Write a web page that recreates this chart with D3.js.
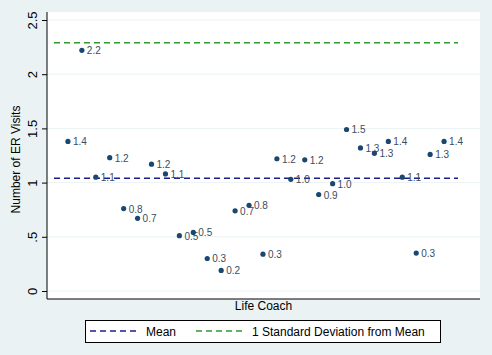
<!DOCTYPE html>
<html>
<head>
<meta charset="utf-8">
<script src="https://cdn.jsdelivr.net/npm/d3@7"></script>
<style>
  body { margin: 0; background: #eaf2f3; }
  svg { display: block; font-family: "Liberation Sans", Arial, sans-serif; }
</style>
</head>
<body>
<div id="chart"></div>
<script>
// values
const coachIds = d3.range(1, 29);
const erVisits = [
  1.38, 2.22, 1.05, 1.23, 0.76, 0.67, 1.17, 1.08, 0.51, 0.54,
  0.30, 0.19, 0.74, 0.79, 0.34, 1.22, 1.03, 1.21, 0.89, 0.99,
  1.49, 1.32, 1.27, 1.38, 1.05, 0.35, 1.26, 1.38,
];
const pointLabels = [
  '1.4', '2.2', '1.1', '1.2', '0.8', '0.7', '1.2', '1.1', '0.5', '0.5',
  '0.3', '0.2', '0.7', '0.8', '0.3', '1.2', '1.0', '1.2', '0.9', '1.0',
  '1.5', '1.3', '1.3', '1.4', '1.1', '0.3', '1.3', '1.4',
];
const meanValue = 1.04;
const sdValue = 2.29;
const yTicks = [0, 0.5, 1, 1.5, 2, 2.5];
const yTickLabels = ['0', '.5', '1', '1.5', '2', '2.5'];
const lineExtent = [0, 29];

const width = 492;
const height = 355;
const plot = { left: 47, right: 480, top: 12, bottom: 299 };

const data = coachIds.map((id, i) => ({ id, value: erVisits[i], label: pointLabels[i] }));

const xScale = d3.scaleLinear().domain([0, 29]).range([54, 458]);
const yScale = d3.scaleLinear().domain([0, 2.5]).range([291, 20]);

const svg = d3.select('#chart')
  .append('svg')
  .attr('width', width)
  .attr('height', height);

svg.append('rect')
  .attr('width', width)
  .attr('height', height)
  .attr('fill', '#eaf2f3');

svg.append('rect')
  .attr('x', plot.left)
  .attr('y', plot.top)
  .attr('width', plot.right - plot.left)
  .attr('height', plot.bottom - plot.top)
  .attr('fill', '#fff');

// gridlines
svg.append('g')
  .selectAll('line')
  .data(yTicks)
  .enter()
  .append('line')
  .attr('x1', plot.left)
  .attr('x2', plot.right)
  .attr('y1', (d) => yScale(d))
  .attr('y2', (d) => yScale(d))
  .attr('stroke', '#eaf2f3')
  .attr('stroke-width', 1);

// y axis
const yAxis = d3.axisLeft(yScale)
  .tickValues(yTicks)
  .tickSize(5)
  .tickFormat((d, i) => yTickLabels[i]);
const gy = svg.append('g')
  .attr('transform', `translate(${plot.left},0)`)
  .call(yAxis);
gy.select('.domain').remove();
gy.selectAll('.tick line').attr('stroke', '#000');
gy.selectAll('.tick text')
  .attr('fill', '#000')
  .attr('font-size', 13)
  .attr('text-anchor', 'middle')
  .attr('dy', null)
  .attr('x', 0)
  .attr('transform', 'translate(-10,0) rotate(-90)');
svg.append('line')
  .attr('x1', plot.left).attr('x2', plot.left)
  .attr('y1', plot.top).attr('y2', plot.bottom)
  .attr('stroke', '#000');
svg.append('line')
  .attr('x1', plot.left).attr('x2', plot.right)
  .attr('y1', plot.bottom).attr('y2', plot.bottom)
  .attr('stroke', '#000');

svg.append('text')
  .attr('transform', `translate(20,${(plot.top + plot.bottom) / 2 + 4}) rotate(-90)`)
  .attr('text-anchor', 'middle')
  .attr('font-size', 12)
  .text('Number of ER Visits');

svg.append('text')
  .attr('x', (plot.left + plot.right) / 2)
  .attr('y', 310)
  .attr('text-anchor', 'middle')
  .attr('font-size', 12)
  .text('Life Coach');

// reference lines
const refLines = [
  { value: meanValue, color: '#1c1c8c' },
  { value: sdValue, color: '#2e9a2e' },
];
svg.append('g')
  .selectAll('line')
  .data(refLines)
  .enter()
  .append('line')
  .attr('x1', xScale(lineExtent[0]))
  .attr('x2', xScale(lineExtent[1]))
  .attr('y1', (d) => yScale(d.value))
  .attr('y2', (d) => yScale(d.value))
  .attr('stroke', (d) => d.color)
  .attr('stroke-width', 1.3)
  .attr('stroke-dasharray', '6,4');

// markers
const pts = svg.append('g')
  .selectAll('g')
  .data(data)
  .enter()
  .append('g')
  .attr('transform', (d) => `translate(${xScale(d.id)},${yScale(d.value)})`);
pts.append('circle')
  .attr('r', 2.6)
  .attr('fill', '#1a476f');
pts.append('text')
  .attr('x', 5)
  .attr('y', 4)
  .attr('font-size', 10)
  .attr('fill', '#3a4d60')
  .text((d) => d.label);

// legend
const legend = svg.append('g');
legend.append('rect')
  .attr('x', 85.5)
  .attr('y', 320.5)
  .attr('width', 355)
  .attr('height', 22)
  .attr('fill', '#fff')
  .attr('stroke', '#000');
const legendItems = [
  { text: 'Mean', color: '#1c1c8c', x: 90 },
  { text: '1 Standard Deviation from Mean', color: '#2e9a2e', x: 196 },
];
const li = legend.selectAll('g.item')
  .data(legendItems)
  .enter()
  .append('g')
  .attr('class', 'item')
  .attr('transform', (d) => `translate(${d.x},331)`);
li.append('line')
  .attr('x1', 0).attr('x2', 47)
  .attr('stroke', (d) => d.color)
  .attr('stroke-width', 1.3)
  .attr('stroke-dasharray', '6,4');
li.append('text')
  .attr('x', 56)
  .attr('y', 5)
  .attr('font-size', 12)
  .text((d) => d.text);
</script>
</body>
</html>
